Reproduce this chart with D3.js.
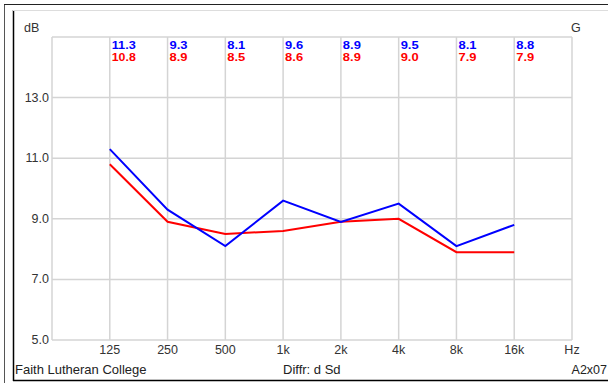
<!DOCTYPE html>
<html>
<head>
<meta charset="utf-8">
<script src="https://cdn.jsdelivr.net/npm/d3@7"></script>
<style>
  html, body { margin: 0; padding: 0; background: #fff; }
  svg { display: block; }
  text { font-family: "Liberation Sans", Arial, sans-serif; }
</style>
</head>
<body>
<svg id="chart" width="608" height="383"></svg>
<script>
// Octave-band frequencies and measured values (dB)
const bands = ["125", "250", "500", "1k", "2k", "4k", "8k", "16k"];
const blueValues = [11.3, 9.3, 8.1, 9.6, 8.9, 9.5, 8.1, 8.8];
const redValues  = [10.8, 8.9, 8.5, 8.6, 8.9, 9.0, 7.9, 7.9];
const yTicks = [5, 7, 9, 11, 13];

const svg = d3.select("#chart");

// Window frame
svg.append("line").attr("x1", 4.5).attr("x2", 4.5).attr("y1", 4).attr("y2", 383).attr("stroke", "#555").attr("stroke-width", 1);
svg.append("line").attr("x1", 4).attr("x2", 608).attr("y1", 4.5).attr("y2", 4.5).attr("stroke", "#222").attr("stroke-width", 1);
svg.append("line").attr("x1", 13.5).attr("x2", 13.5).attr("y1", 10).attr("y2", 381).attr("stroke", "#000").attr("stroke-width", 1.5);
svg.append("line").attr("x1", 13).attr("x2", 608).attr("y1", 10.5).attr("y2", 10.5).attr("stroke", "#ddd").attr("stroke-width", 1);
svg.append("line").attr("x1", 13).attr("x2", 608).attr("y1", 380.5).attr("y2", 380.5).attr("stroke", "#000").attr("stroke-width", 1.5);

const plot = { left: 52, right: 572, top: 37, bottom: 340 };

// Band positions: index 0 is the left edge, last index is the "Hz" slot
const x = d3.scaleLinear().domain([0, bands.length + 1]).range([plot.left, plot.right]);
const y = d3.scaleLinear().domain([5, 15]).range([plot.bottom, plot.top]);

const grid = svg.append("g").attr("stroke", "#d4d4d4").attr("stroke-width", 1.5);
// vertical gridlines (including plot edges)
d3.range(0, bands.length + 2).forEach(i => {
  grid.append("line")
    .attr("x1", x(i)).attr("x2", x(i))
    .attr("y1", plot.top).attr("y2", plot.bottom);
});
// horizontal gridlines
yTicks.concat([15]).forEach(v => {
  grid.append("line")
    .attr("x1", plot.left).attr("x2", plot.right)
    .attr("y1", y(v)).attr("y2", y(v));
});

// Y tick labels
svg.append("g").selectAll("text").data(yTicks).join("text")
  .attr("x", plot.left - 3).attr("y", d => y(d) + 4)
  .attr("text-anchor", "end").attr("font-size", 12.5).attr("fill", "#333")
  .text(d => d.toFixed(1));

// X tick labels
svg.append("g").selectAll("text").data(bands.concat(["Hz"])).join("text")
  .attr("x", (d, i) => x(i + 1)).attr("y", 354)
  .attr("text-anchor", "middle").attr("font-size", 12.5).attr("fill", "#333")
  .text(d => d);

svg.append("text").attr("x", 24).attr("y", 32).attr("font-size", 12.5).attr("fill", "#333").text("dB");
svg.append("text").attr("x", 571).attr("y", 32).attr("font-size", 12.5).attr("fill", "#333").text("G");

// Footer
svg.append("text").attr("x", 15).attr("y", 374).attr("font-size", 13).attr("fill", "#222").text("Faith Lutheran College");
svg.append("text").attr("x", 283).attr("y", 374).attr("font-size", 13).attr("fill", "#222").text("Diffr: d Sd");
svg.append("text").attr("x", 607).attr("y", 374).attr("text-anchor", "end").attr("font-size", 12.5).attr("fill", "#222").text("A2x07");

// Series lines
const line = d3.line().x((d, i) => x(i + 1)).y(d => y(d));
svg.append("path").datum(redValues).attr("d", line)
  .attr("fill", "none").attr("stroke", "#ff0000").attr("stroke-width", 2);
svg.append("path").datum(blueValues).attr("d", line)
  .attr("fill", "none").attr("stroke", "#0000ff").attr("stroke-width", 2);

// Value labels above each band
svg.append("g").selectAll("text").data(blueValues).join("text")
  .attr("x", (d, i) => x(i + 1) + 2).attr("y", 49)
  .attr("font-size", 11).attr("font-weight", "bold").attr("fill", "#0000ff")
  .attr("textLength", d => d >= 10 ? 24 : 18).attr("lengthAdjust", "spacingAndGlyphs")
  .text(d => d.toFixed(1));
svg.append("g").selectAll("text").data(redValues).join("text")
  .attr("x", (d, i) => x(i + 1) + 2).attr("y", 61)
  .attr("font-size", 11).attr("font-weight", "bold").attr("fill", "#ff0000")
  .attr("textLength", d => d >= 10 ? 24 : 18).attr("lengthAdjust", "spacingAndGlyphs")
  .text(d => d.toFixed(1));
</script>
</body>
</html>
